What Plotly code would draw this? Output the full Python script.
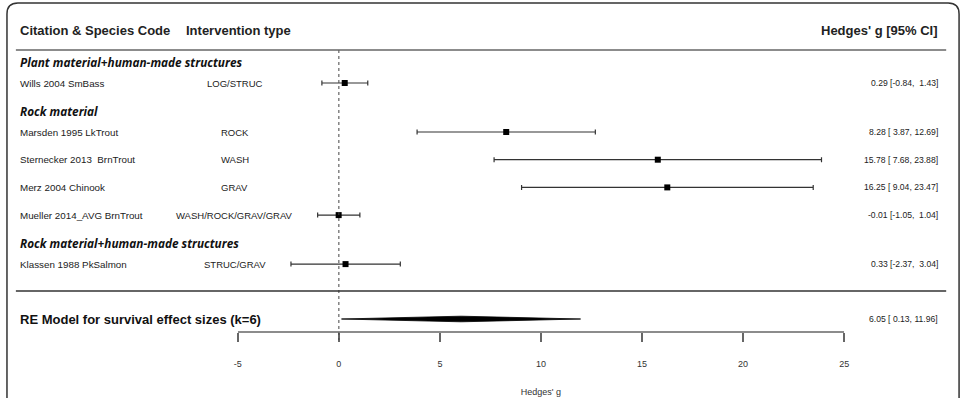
import plotly.graph_objects as go

# ---------------- data ----------------
groups = ["Plant material+human-made structures",
          "Rock material",
          "Rock material+human-made structures"]
citations = ["Wills 2004 SmBass", "Marsden 1995 LkTrout", "Sternecker 2013  BrnTrout",
             "Merz 2004 Chinook", "Mueller 2014_AVG BrnTrout", "Klassen 1988 PkSalmon"]
study_group = [0, 1, 1, 1, 1, 2]
interventions = ["LOG/STRUC", "ROCK", "WASH", "GRAV", "WASH/ROCK/GRAV/GRAV", "STRUC/GRAV"]
g = [0.29, 8.28, 15.78, 16.25, -0.01, 0.33]
ci_lo = [-0.84, 3.87, 7.68, 9.04, -1.05, -2.37]
ci_hi = [1.43, 12.69, 23.88, 23.47, 1.04, 3.04]
re_label = "RE Model for survival effect sizes (k=6)"
re_g, re_lo, re_hi = 6.05, 0.13, 11.96
tick_vals = [-5, 0, 5, 10, 15, 20, 25]
tick_text = ["-5", "0", "5", "10", "15", "20", "25"]
x_title = "Hedges' g"

# ---------------- layout constants (pixels) ----------------
W, H = 971, 398
X_LABEL = 14
X_INTERV = 233
X_INTERV_HEAD = 182
X_VALUE = 945
AX_LEFT, AX_RIGHT = 236, 848
Y_FIRST_HEAD = 62
STEP_STUDY = 27.7
STEP_HEAD_TO_STUDY = 21
STEP_STUDY_TO_HEAD = 28
Y_TOP_SEP = 50
Y_BOT_SEP = 291
Y_RE = 319
Y_AXIS = 332
FONT = "Liberation Sans, Arial, sans-serif"
NB = "\u00a0"


def fmt(v, lo, hi):
    s = f"{v:.2f} [{lo:5.2f}, {hi:5.2f}]"
    return s.replace(" ", NB)


def px(x):
    return x / W


# compute row positions
head_y = {}
study_y = []
y = Y_FIRST_HEAD
prev = None
for i, gi in enumerate(study_group):
    if gi != prev:
        if prev is not None:
            y += STEP_STUDY_TO_HEAD
        head_y[gi] = y
        y += STEP_HEAD_TO_STUDY
    else:
        y += STEP_STUDY
    study_y.append(y)
    prev = gi

fig = go.Figure()

# study estimates with CIs
fig.add_trace(go.Scatter(
    x=g, y=study_y, mode="markers",
    marker=dict(symbol="square", size=6, color="black"),
    error_x=dict(type="data", symmetric=False,
                 array=[h - e for h, e in zip(ci_hi, g)],
                 arrayminus=[e - l for e, l in zip(g, ci_lo)],
                 color="#333333", thickness=1.2, width=2.5),
    hoverinfo="skip", showlegend=False, cliponaxis=False))

# RE diamond
dh = 2.8
fig.add_trace(go.Scatter(
    x=[re_lo, re_g, re_hi, re_g, re_lo],
    y=[Y_RE, Y_RE - dh, Y_RE, Y_RE + dh, Y_RE],
    mode="lines", fill="toself", fillcolor="black",
    line=dict(color="black", width=0.8), hoverinfo="skip", showlegend=False))

shapes = []
# reference line at 0
shapes.append(dict(type="line", xref="x", yref="y", x0=0, x1=0, y0=Y_TOP_SEP, y1=Y_AXIS + 8,
                   line=dict(color="#444444", width=1, dash="dot")))
# separators
for yy, col in [(Y_TOP_SEP, "#666666"), (Y_BOT_SEP, "#333333")]:
    shapes.append(dict(type="line", xref="paper", yref="y", x0=px(12), x1=px(951), y0=yy, y1=yy,
                       line=dict(color=col, width=1.5)))
# rounded frame (open at the bottom)
r = 11
x0f, x1f, y0f = 3, 964, 3
path = (f"M {px(x0f)} {H + 5} L {px(x0f)} {y0f + r} Q {px(x0f)} {y0f} {px(x0f + r)} {y0f} "
        f"L {px(x1f - r)} {y0f} Q {px(x1f)} {y0f} {px(x1f)} {y0f + r} L {px(x1f)} {H + 5}")
shapes.append(dict(type="path", xref="paper", yref="y", path=path,
                   line=dict(color="#333333", width=1.5)))
# axis line
shapes.append(dict(type="line", xref="x", yref="y", x0=tick_vals[0], x1=tick_vals[-1],
                   y0=Y_AXIS, y1=Y_AXIS, line=dict(color="#666666", width=1.5)))

ann = []


def text(x, y, s, size=10, bold=False, italic=False, anchor="left", color="#222222", family=FONT):
    t = s
    if bold:
        t = f"<b>{t}</b>"
    if italic:
        t = f"<i>{t}</i>"
    ann.append(dict(x=px(x), xref="paper", y=y, yref="y", text=t, showarrow=False,
                    xanchor=anchor, yanchor="middle",
                    font=dict(size=size, color=color, family=family)))


# headers
text(X_LABEL, 30, "Citation &amp; Species Code", size=13, bold=True)
text(X_INTERV_HEAD, 30, "Intervention type", size=13, bold=True)
text(X_VALUE, 30, "Hedges' g [95% CI]", size=13, bold=True, anchor="right")

for gi, name in enumerate(groups):
    text(X_LABEL, head_y[gi], name, size=11.8, bold=True, italic=True,
         family="Open Sans, Noto Sans, sans-serif", color="#111111")

for i in range(len(citations)):
    yy = study_y[i]
    text(X_LABEL, yy, citations[i].replace("  ", NB + " "), size=9.8)
    text(X_INTERV, yy, interventions[i], size=9.5, anchor="center")
    text(X_VALUE, yy, fmt(g[i], ci_lo[i], ci_hi[i]), size=8.6, anchor="right")

text(X_LABEL, Y_RE, re_label, size=13, bold=True, color="#111111")
text(X_VALUE, Y_RE, fmt(re_g, re_lo, re_hi), size=8.6, anchor="right")

fig.update_layout(
    width=W, height=H, margin=dict(l=0, r=0, t=0, b=0),
    paper_bgcolor="white", plot_bgcolor="white",
    shapes=shapes, annotations=ann,
    xaxis=dict(domain=[px(AX_LEFT), px(AX_RIGHT)], range=[-5, 25],
               anchor="free", position=1 - Y_AXIS / H,
               showline=False,
               ticks="outside", ticklen=9, tickwidth=1.5, tickcolor="#666666",
               tickvals=tick_vals, ticktext=tick_text, ticklabelstandoff=14,
               tickfont=dict(size=9, color="#333333", family=FONT),
               showgrid=False, zeroline=False,
               title=dict(text=x_title, standoff=20,
                          font=dict(size=9, color="#333333", family=FONT))),
    yaxis=dict(domain=[0, 1], range=[H, 0], visible=False),
)

fig.write_html("out.html")
